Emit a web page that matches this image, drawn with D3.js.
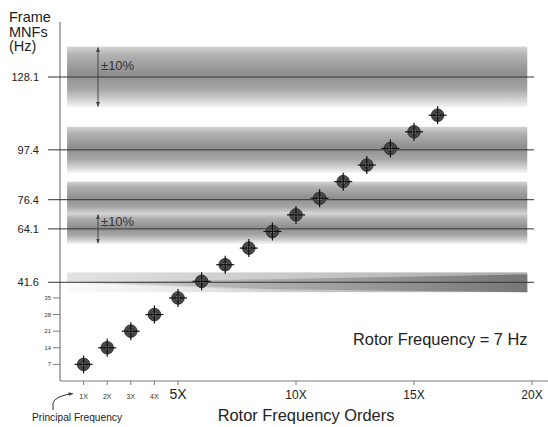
<!DOCTYPE html>
<html>
<head>
<meta charset="utf-8">
<script src="https://cdn.jsdelivr.net/npm/d3@7"></script>
<style>
  body { margin: 0; background: #fff; }
  svg { display: block; font-family: Arial, "Liberation Sans", sans-serif; }
</style>
</head>
<body>
<script>
// data
const orders = [1, 2, 3, 4, 5, 6, 7, 8, 9, 10, 11, 12, 13, 14, 15, 16];
const orderFreqs = [7, 14, 21, 28, 35, 42, 49, 56, 63, 70, 77, 84, 91, 98, 105, 112];
const frameMNFs = [41.6, 64.1, 76.4, 97.4, 128.1];
const smallYTicks = [7, 14, 21, 28, 35];
const smallXTicks = [1, 2, 3, 4];
const bigXTicks = [5, 10, 15, 20];
const tolerance = 0.10;

const W = 548, H = 427;
const svg = d3.select("body").append("svg").attr("width", W).attr("height", H);

const x = d3.scaleLinear().domain([0, 20]).range([60, 532]);
const y = d3.scaleLinear().domain([0, 128.1]).range([381, 77]);

const defs = svg.append("defs");

// vertical gradient for the ±10 % bands
const vg = defs.append("linearGradient").attr("id", "bandV")
    .attr("x1", 0).attr("y1", 0).attr("x2", 0).attr("y2", 1);
[[0, "#d4d4d4"], [0.15, "#b0b0b0"], [0.45, "#8f8f8f"], [0.7, "#a6a6a6"], [0.88, "#d4d4d4"], [1, "#f6f6f6"]]
    .forEach(([o, c]) => vg.append("stop").attr("offset", o).attr("stop-color", c));

// lowest band: light on the left, dark wedge growing to the right
const hg = defs.append("linearGradient").attr("id", "bandH")
    .attr("x1", 0).attr("y1", 0).attr("x2", 1).attr("y2", 0);
[[0, "#e2e2e2"], [0.5, "#c8c8c8"], [1, "#a8a8a8"]]
    .forEach(([o, c]) => hg.append("stop").attr("offset", o).attr("stop-color", c));
const wg = defs.append("linearGradient").attr("id", "wedge")
    .attr("x1", 0).attr("y1", 0).attr("x2", 1).attr("y2", 0);
[[0, "#777", 0.1], [0.6, "#777", 0.5], [1, "#666", 0.75]]
    .forEach(([o, c, a]) => wg.append("stop").attr("offset", o).attr("stop-color", c).attr("stop-opacity", a));
const fg = defs.append("linearGradient").attr("id", "fadeLow")
    .attr("x1", 0).attr("y1", 0).attr("x2", 1).attr("y2", 0);
[[0, "#fff", 0.85], [1, "#fff", 0]]
    .forEach(([o, c, a]) => fg.append("stop").attr("offset", o).attr("stop-color", c).attr("stop-opacity", a));

// arrow marker
defs.append("marker").attr("id", "arr").attr("viewBox", "0 0 10 10")
    .attr("refX", 9).attr("refY", 5).attr("markerWidth", 5).attr("markerHeight", 5)
    .attr("orient", "auto-start-reverse")
  .append("path").attr("d", "M0,1 L10,5 L0,9 Z").attr("fill", "#444");

const bx0 = x(0.3), bx1 = x(19.8);

// bands (drawn from the top down so lower bands sit on top where they overlap)
const upper = frameMNFs.filter(f => f > 50).slice().reverse();
svg.append("g").selectAll("rect").data(upper).join("rect")
    .attr("x", bx0).attr("width", bx1 - bx0)
    .attr("y", d => y(d * (1 + tolerance)))
    .attr("height", d => y(d * (1 - tolerance)) - y(d * (1 + tolerance)))
    .attr("fill", "url(#bandV)");

const low = frameMNFs[0];
const lt = y(low * (1 + tolerance)), lb = y(low * (1 - tolerance)), lm = y(low);
const lowG = svg.append("g");
lowG.append("rect")
    .attr("x", bx0).attr("width", bx1 - bx0)
    .attr("y", lt).attr("height", lb - lt)
    .attr("fill", "url(#bandH)");
lowG.append("path")
    .attr("d", `M${bx0},${lm} L${x(11)},${lb} L${bx0},${lb} Z`)
    .attr("fill", "url(#fadeLow)");
lowG.append("path")
    .attr("d", `M${x(1.5)},${lm} L${bx1},${lt + 2} L${bx1},${lb} L${x(9)},${lb - 3} Z`)
    .attr("fill", "url(#wedge)");

// axes
const axisColor = "#7a7a7a";
svg.append("line").attr("x1", x(0)).attr("x2", x(0)).attr("y1", 22).attr("y2", y(0))
    .attr("stroke", axisColor).attr("stroke-width", 1.2);
svg.append("line").attr("x1", x(0)).attr("x2", 548).attr("y1", y(0)).attr("y2", y(0))
    .attr("stroke", axisColor).attr("stroke-width", 1.2);

// frame MNF lines
svg.append("g").selectAll("line").data(frameMNFs).join("line")
    .attr("x1", 48).attr("x2", 534)
    .attr("y1", d => y(d)).attr("y2", d => y(d))
    .attr("stroke", "#333").attr("stroke-width", 1);
svg.append("g").selectAll("text").data(frameMNFs).join("text")
    .attr("x", 39).attr("y", d => y(d) + 4)
    .attr("text-anchor", "end").attr("font-size", 11).attr("fill", "#222")
    .text(d => d.toFixed(1));

// small y ticks
const syt = svg.append("g");
syt.selectAll("line").data(smallYTicks).join("line")
    .attr("x1", x(0) - 7).attr("x2", x(0))
    .attr("y1", d => y(d)).attr("y2", d => y(d))
    .attr("stroke", axisColor);
syt.selectAll("text").data(smallYTicks).join("text")
    .attr("x", 51).attr("y", d => y(d) + 2)
    .attr("text-anchor", "end").attr("font-size", 5.8).attr("fill", "#333")
    .text(d => d);

// x ticks
const allX = smallXTicks.concat(bigXTicks);
svg.append("g").selectAll("line").data(allX).join("line")
    .attr("x1", d => x(d)).attr("x2", d => x(d))
    .attr("y1", y(0)).attr("y2", y(0) + 4)
    .attr("stroke", axisColor);
svg.append("g").selectAll("text").data(smallXTicks).join("text")
    .attr("x", d => x(d)).attr("y", 398.5)
    .attr("text-anchor", "middle").attr("font-size", 7).attr("fill", "#333")
    .text(d => d + "X");
svg.append("g").selectAll("text").data(bigXTicks).join("text")
    .attr("x", d => x(d)).attr("y", 399)
    .attr("text-anchor", "middle").attr("font-size", d => d === 5 ? 14 : 12).attr("fill", "#222")
    .text(d => d + "X");

// ±10 % arrows
const tolArrows = [128.1, 64.1];
tolArrows.forEach((f, i) => {
  svg.append("line")
      .attr("x1", 98).attr("x2", 98)
      .attr("y1", y(f * (1 + tolerance)) + 1).attr("y2", y(f * (1 - tolerance)) - 1)
      .attr("stroke", "#444").attr("stroke-width", 1)
      .attr("marker-start", "url(#arr)").attr("marker-end", "url(#arr)");
  svg.append("text")
      .attr("x", 101).attr("y", i === 0 ? y(f) - 7 : y(f) - 3)
      .attr("font-size", 13).attr("fill", "#333")
      .text("±10%");
});

// order markers
const pts = orders.map((o, i) => ({ o, f: orderFreqs[i] }));
const mk = svg.append("g").selectAll("g").data(pts).join("g")
    .attr("transform", d => `translate(${x(d.o)},${y(d.f)})`);
mk.append("circle").attr("r", 6.3).attr("fill", "#4a4a4a").attr("stroke", "#222").attr("stroke-width", 0.8);
mk.append("circle").attr("r", 3).attr("fill", "#777").attr("stroke", "#222").attr("stroke-width", 0.8);
mk.append("line").attr("x1", -9).attr("x2", 9).attr("stroke", "#111").attr("stroke-width", 1.2);
mk.append("line").attr("y1", -9).attr("y2", 9).attr("stroke", "#111").attr("stroke-width", 1.2);

// texts
const title = svg.append("text").attr("font-size", 14.5).attr("fill", "#222");
["Frame", "MNFs", "(Hz)"].forEach((t, i) =>
  title.append("tspan").attr("x", 9).attr("y", 22 + i * 14.5).text(t));

svg.append("text").attr("x", 353).attr("y", 345)
    .attr("font-size", 16.4).attr("fill", "#222")
    .text("Rotor Frequency = 7 Hz");

svg.append("text").attr("x", 306).attr("y", 421)
    .attr("text-anchor", "middle").attr("font-size", 16.4).attr("fill", "#222")
    .text("Rotor Frequency Orders");

svg.append("text").attr("x", 32).attr("y", 421)
    .attr("font-size", 10.2).attr("fill", "#222")
    .text("Principal Frequency");

svg.append("path")
    .attr("d", "M53,410 L53,403 Q55,396 73,393.5")
    .attr("fill", "none").attr("stroke", "#333").attr("stroke-width", 1)
    .attr("marker-end", "url(#arr)");
</script>
</body>
</html>
